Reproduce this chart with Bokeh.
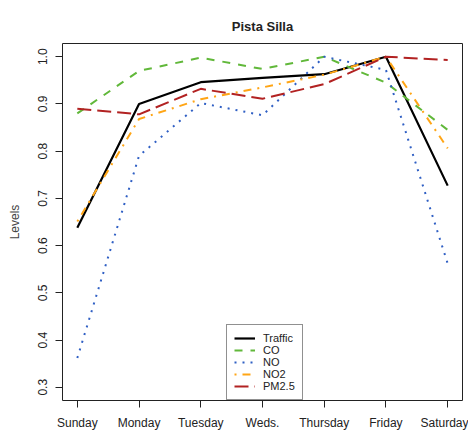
from bokeh.plotting import figure
from bokeh.models import FixedTicker, Range1d, Legend, LegendItem
from bokeh.embed import file_html
from bokeh.resources import INLINE

days = ["Sunday", "Monday", "Tuesday", "Weds.", "Thursday", "Friday", "Saturday"]
traffic = [0.638, 0.900, 0.946, 0.955, 0.963, 1.000, 0.727]
co = [0.880, 0.970, 0.998, 0.974, 1.000, 0.945, 0.845]
no = [0.362, 0.790, 0.902, 0.876, 1.000, 0.972, 0.562]
no2 = [0.651, 0.868, 0.910, 0.935, 0.962, 1.000, 0.806]
pm25 = [0.890, 0.878, 0.932, 0.911, 0.942, 1.000, 0.993]

series = [
    ("Traffic", traffic, "#000000", "solid", 2.2),
    ("CO", co, "#61b83a", "8 8", 2),
    ("NO", no, "#2f5fc4", "2 6", 2),
    ("NO2", no2, "#ffa515", "2 6 8 6", 2),
    ("PM2.5", pm25, "#b22222", "14 6", 2),
]

x = list(range(1, len(days) + 1))

p = figure(width=468, height=433, output_backend="svg", toolbar_location=None,
           x_range=Range1d(0.76, 7.24), y_range=Range1d(0.272, 1.028),
           min_border_left=62, min_border_right=6, min_border_top=43,
           min_border_bottom=33)
p.background_fill_color = "white"
p.border_fill_color = "white"
p.grid.visible = False
p.outline_line_color = "#222222"
p.outline_line_width = 1

p.title.text = "Pista Silla"
p.title.align = "center"
p.title.text_font = "Liberation Sans"
p.title.text_font_size = "13px"
p.title.text_font_style = "bold"
p.title.text_color = "#222222"
p.title.standoff = 20

items = []
for name, vals, color, dash, w in series:
    r = p.line(x, vals, line_color=color, line_dash=dash, line_width=w)
    items.append(LegendItem(label=name, renderers=[r]))

for ax in (p.xaxis[0], p.yaxis[0]):
    ax.axis_line_color = None
    ax.major_tick_in = 0
    ax.major_tick_out = 7
    ax.minor_tick_line_color = None
    ax.major_tick_line_color = "#222222"
    ax.major_label_text_font = "Liberation Sans"
    ax.major_label_text_font_size = "12px"
    ax.major_label_text_color = "#222222"
    ax.major_label_standoff = 8

p.xaxis.ticker = FixedTicker(ticks=x)
p.xaxis.major_label_overrides = {i: d for i, d in zip(x, days)}

p.yaxis.ticker = FixedTicker(ticks=[0.3, 0.4, 0.5, 0.6, 0.7, 0.8, 0.9, 1.0])
p.yaxis.major_label_overrides = {0.3: "0.3", 0.4: "0.4", 0.5: "0.5", 0.6: "0.6",
                                 0.7: "0.7", 0.8: "0.8", 0.9: "0.9", 1.0: "1.0"}
p.yaxis.major_label_orientation = "vertical"
p.yaxis.axis_label = "Levels"
p.yaxis.axis_label_text_font = "Liberation Sans"
p.yaxis.axis_label_text_font_size = "12px"
p.yaxis.axis_label_text_font_style = "normal"
p.yaxis.axis_label_standoff = 14

legend = Legend(items=items, location=(164, 0))
legend.border_line_color = "#222222"
legend.border_line_width = 1
legend.background_fill_alpha = 1
legend.label_text_font = "Liberation Sans"
legend.label_text_font_size = "11px"
legend.label_text_color = "#222222"
legend.glyph_width = 21
legend.glyph_height = 12
legend.label_height = 12
legend.label_standoff = 8
legend.spacing = 0
legend.padding = 7
legend.margin = 0
p.add_layout(legend, "center")

open("out.html", "w").write(file_html(p, INLINE))
